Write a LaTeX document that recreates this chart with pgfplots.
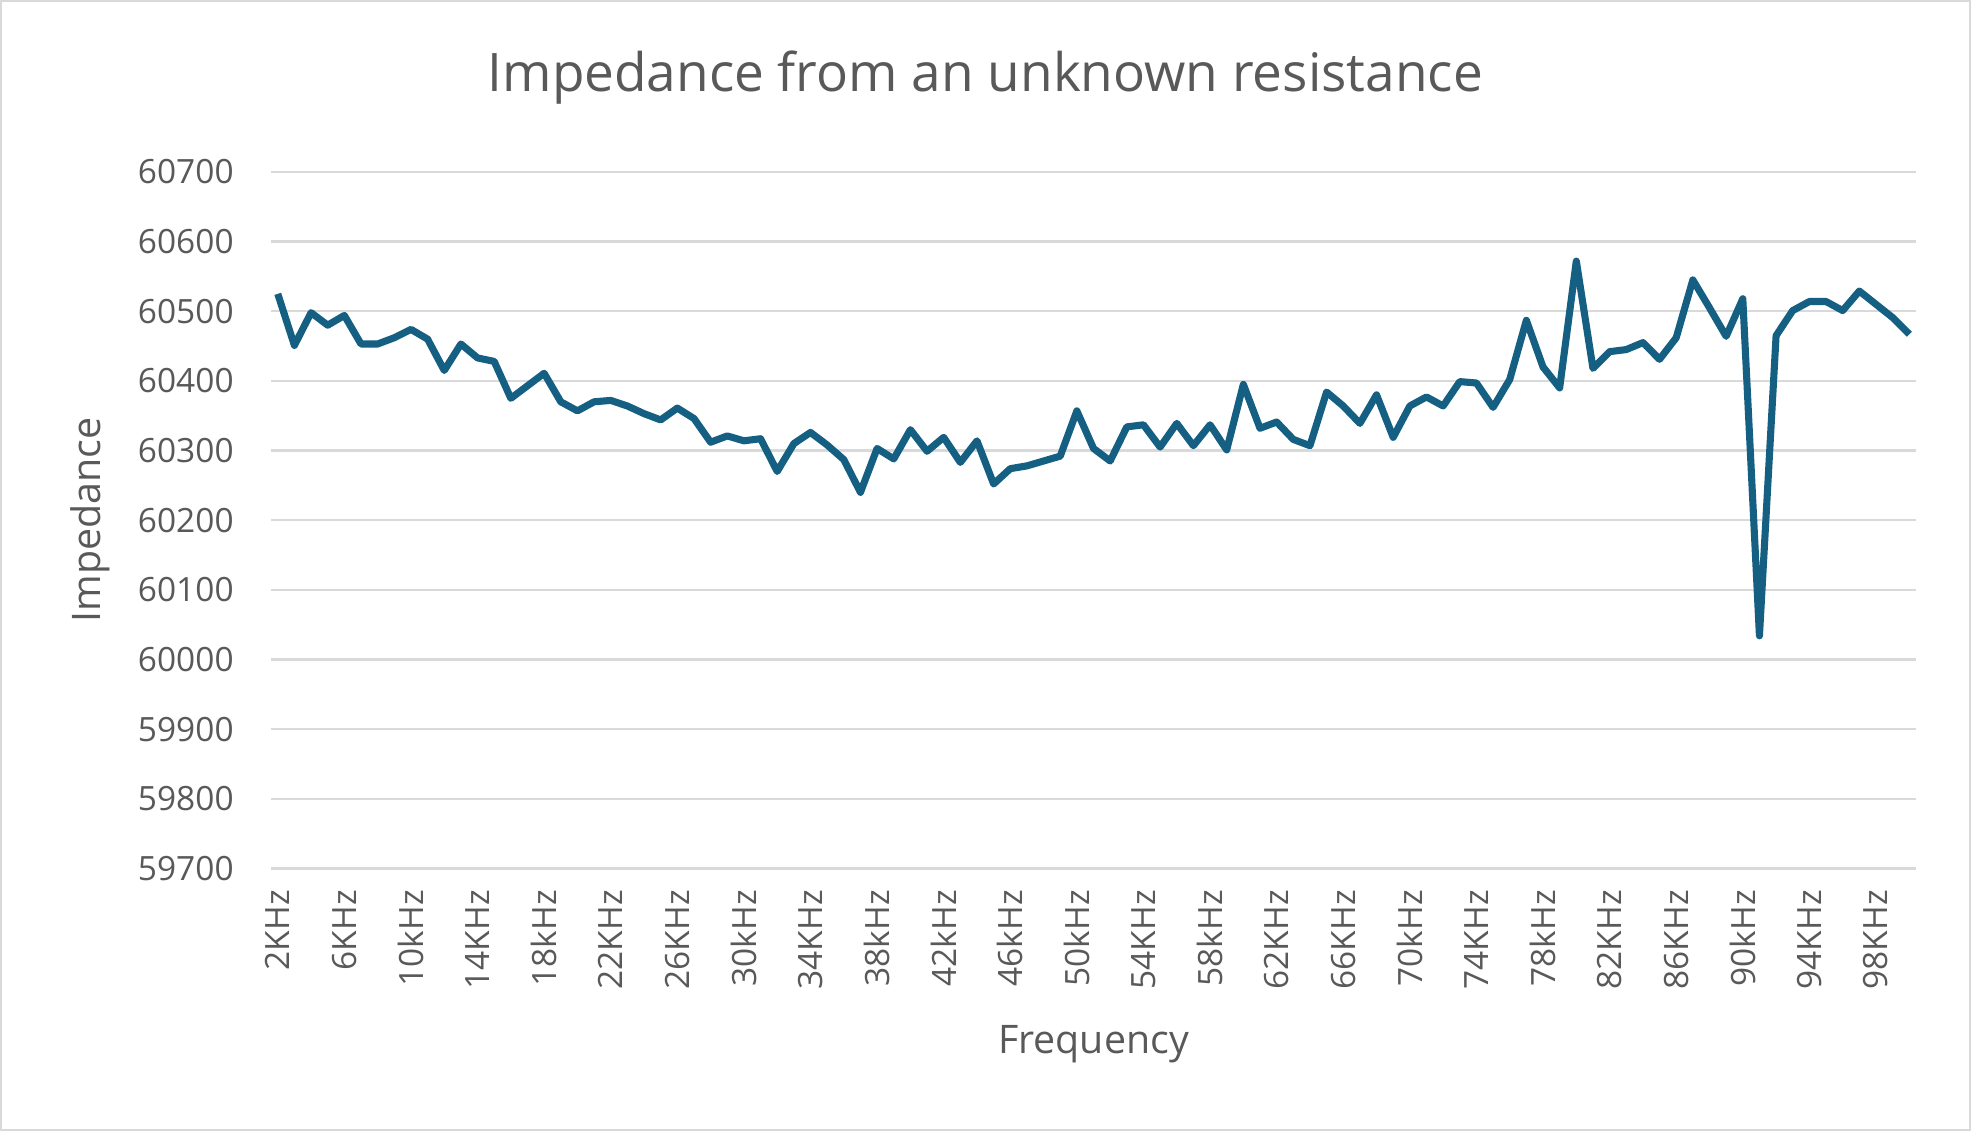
\documentclass[border=0pt]{standalone}
\usepackage{pgfplots}
\pgfplotsset{compat=1.18}
\usepackage{fontspec}
\setmainfont{Open Sans}
\definecolor{ln}{RGB}{21,96,130}
\definecolor{tx}{RGB}{89,89,89}
\definecolor{gr}{RGB}{217,217,217}
\begin{document}
\begin{tikzpicture}
\draw[gr,line width=0.6pt,fill=white] (-68.6pt,-66.4pt) rectangle (431.7pt,220.4pt);
\begin{axis}[
  at={(0,0)},anchor=origin,
  scale only axis, width=418pt, height=177pt,
  xmin=1.6, xmax=100.4, ymin=59700, ymax=60700,
  ytick={59700,59800,...,60700},
  scaled y ticks=false,
  yticklabel style={/pgf/number format/fixed,/pgf/number format/precision=0},
  xtick={2,6,...,98},
  xticklabels={2KHz,6KHz,10kHz,14KHz,18kHz,22KHz,26KHz,30kHz,34KHz,38kHz,42kHz,46kHz,50kHz,54KHz,58kHz,62KHz,66KHz,70kHz,74KHz,78kHz,82KHz,86KHz,90kHz,94KHz,98KHz},
  x tick label style={rotate=90,anchor=east,font=\fontsize{8.5}{9}\selectfont,text=tx},
  y tick label style={font=\fontsize{8.5}{9}\selectfont,text=tx},
  /pgf/number format/assume math mode=true,
  /pgf/number format/set thousands separator={},
  ymajorgrids, grid style={gr,line width=0.6pt},
  axis line style={draw=none},
  tick style={draw=none},
  xticklabel shift=2pt, yticklabel shift=6pt,
]
\addplot[ln,line width=1.8pt,line join=round] coordinates {
(2,60525)(3,60451)(4,60498)(5,60480)(6,60494)(7,60453)(8,60453)(9,60462)(10,60474)(11,60460)
(12,60415)(13,60453)(14,60433)(15,60428)(16,60375)(17,60393)(18,60411)(19,60370)(20,60357)(21,60370)
(22,60372)(23,60364)(24,60353)(25,60344)(26,60361)(27,60346)(28,60312)(29,60321)(30,60314)(31,60317)
(32,60270)(33,60310)(34,60326)(35,60308)(36,60287)(37,60240)(38,60303)(39,60288)(40,60330)(41,60299)
(42,60319)(43,60283)(44,60314)(45,60252)(46,60274)(47,60278)(48,60285)(49,60292)(50,60357)(51,60303)
(52,60285)(53,60334)(54,60337)(55,60305)(56,60339)(57,60307)(58,60337)(59,60301)(60,60395)(61,60332)
(62,60341)(63,60316)(64,60307)(65,60384)(66,60364)(67,60339)(68,60380)(69,60319)(70,60364)(71,60377)
(72,60364)(73,60399)(74,60397)(75,60362)(76,60402)(77,60487)(78,60420)(79,60390)(80,60572)(81,60418)
(82,60442)(83,60445)(84,60455)(85,60431)(86,60462)(87,60545)(88,60505)(89,60464)(90,60518)(91,60034)
(92,60465)(93,60501)(94,60514)(95,60514)(96,60501)(97,60529)(98,60510)(99,60491)(100,60467)};
\end{axis}
\node[text=tx,font=\fontsize{13.5}{15}\selectfont] at (181.5pt,201pt) {Impedance from an unknown resistance};
\node[text=tx,font=\fontsize{10}{12}\selectfont] at (209pt,-44.7pt) {Frequency};
\node[text=tx,font=\fontsize{10}{12}\selectfont,rotate=90] at (-46pt,88.5pt) {Impedance};
\end{tikzpicture}
\end{document}
